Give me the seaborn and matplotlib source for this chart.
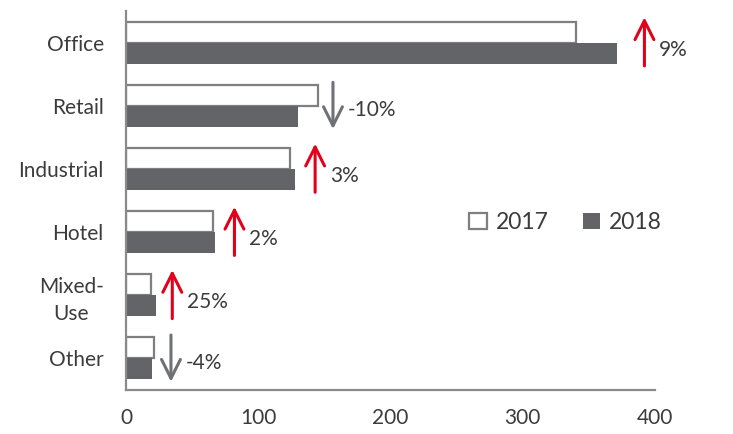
import matplotlib
matplotlib.use("Agg")
import matplotlib.pyplot as plt
import seaborn as sns
import pandas as pd

# Property-type volumes, 2017 vs 2018
categories = ["Office", "Retail", "Industrial", "Hotel", "Mixed-\nUse", "Other"]
values_2017 = [340, 145, 124, 66, 19, 21]
values_2018 = [371, 130, 128, 67.5, 23, 20]
changes = ["9%", "-10%", "3%", "2%", "25%", "-4%"]
years = ["2017", "2018"]
x_ticks = [0, 100, 200, 300, 400]

# Where each change arrow sits along the value axis
arrow_x = [392, 156.5, 143, 82, 35, 34]

sns.set_style("white")
plt.rcParams["font.family"] = ["Lato", "DejaVu Sans"]

df = pd.DataFrame({
    "category": categories * 2,
    "year": [years[0]] * len(categories) + [years[1]] * len(categories),
    "value": values_2017 + values_2018,
})

fig = plt.figure(figsize=(7.33, 4.34), dpi=100)
ax = fig.add_axes([0.1719, 0.1014, 0.7217, 0.8733])

text_color = "#3c3c3c"
dark = "#636467"
edge = "#7f7f80"
red = "#e3001b"
down_gray = "#707174"

sns.barplot(data=df, y="category", x="value", hue="year", order=categories,
            hue_order=years, palette={"2017": "white", "2018": dark},
            width=0.665, orient="h", ax=ax, legend=False, saturation=1)

# 2017 bars: white fill with grey outline; 2018 bars: solid dark grey
for bar in ax.containers[0]:
    bar.set_facecolor("white")
    bar.set_edgecolor(edge)
    bar.set_linewidth(1.6)
for bar in ax.containers[1]:
    bar.set_facecolor(dark)
    bar.set_edgecolor(dark)
    bar.set_linewidth(0)

ax.set_xlim(0, 400)
ax.set_ylim(5.5, -0.5)
ax.set_xticks(x_ticks)
ax.set_xticklabels([str(t) for t in x_ticks])
ax.set_xlabel("")
ax.set_ylabel("")

for lbl in ax.get_yticklabels():
    lbl.set_multialignment("center")
    lbl.set_linespacing(1.45)

ax.tick_params(axis="both", length=0, labelsize=15, colors=text_color)
ax.tick_params(axis="x", pad=13)
ax.tick_params(axis="y", pad=16)

sns.despine(ax=ax, top=True, right=True)
for side in ("left", "bottom"):
    ax.spines[side].set_color("#8a8a8a")
    ax.spines[side].set_linewidth(1.6)

# Change arrows with percentage labels
for i, (xa, ch) in enumerate(zip(arrow_x, changes)):
    up = not ch.startswith("-")
    color = red if up else down_gray
    tip, tail = (i - 0.40, i + 0.37) if up else (i + 0.37, i - 0.37)
    ax.annotate("", xy=(xa, tip), xytext=(xa, tail),
                arrowprops=dict(arrowstyle="->", color=color, lw=2.2,
                                mutation_scale=34, shrinkA=0, shrinkB=0))
    ax.text(xa + 11, i + (0.11 if up else 0.07), ch, fontsize=15,
            color=text_color, va="center", ha="left")

# Legend with square swatches
handles = [ax.containers[0][0], ax.containers[1][0]]
leg = ax.legend(handles, years, loc="center left", bbox_to_anchor=(0.61, 0.442),
                ncol=2, frameon=False, fontsize=16.5, handlelength=0.75,
                handleheight=0.75, handletextpad=0.4, columnspacing=1.5,
                labelcolor=text_color)

fig.savefig("out.png", dpi=100)
